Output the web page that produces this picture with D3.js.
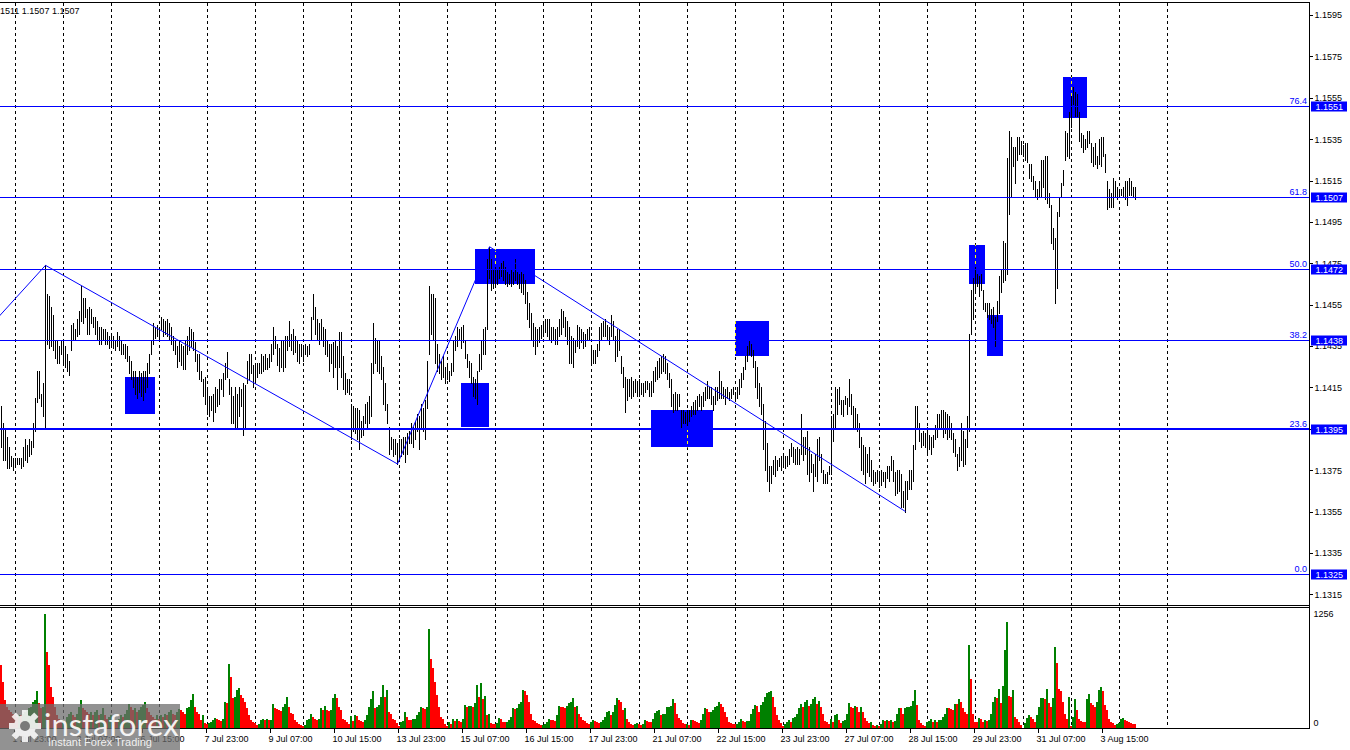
<!DOCTYPE html>
<html><head><meta charset="utf-8">
<script src="https://cdn.jsdelivr.net/npm/d3@7"></script>
<style>html,body{margin:0;padding:0;background:#fff;overflow:hidden}svg{display:block;font-family:"Liberation Sans",Arial,sans-serif}</style>
</head><body><svg id="c" width="1350" height="750"></svg>
<script>
// ---- DATA (EURUSD H1, prices in 1/10000 units, volumes in ticks) ----
const high = [
11406,11398,11395,11391,11386,11382,11381,11381,11381,11381,11381,11386,
11390,11387,11390,11389,11398,11410,11423,11423,11412,11417,11474,11460,
11459,11454,11450,11438,11438,11435,11438,11438,11435,11431,11428,11445,
11446,11443,11448,11452,11464,11458,11458,11453,11454,11453,11449,11449,
11447,11444,11444,11443,11443,11442,11440,11441,11440,11438,11442,11440,
11438,11436,11436,11435,11430,11428,11423,11423,11420,11423,11422,11423,
11423,11427,11431,11438,11446,11444,11445,11444,11449,11448,11447,11448,
11446,11444,11440,11438,11435,11438,11436,11435,11438,11440,11444,11443,
11442,11437,11431,11431,11423,11419,11420,11414,11411,11411,11412,11415,
11414,11419,11419,11422,11427,11432,11419,11415,11411,11415,11412,11415,
11414,11417,11416,11428,11431,11431,11426,11426,11427,11427,11431,11430,
11431,11429,11431,11436,11444,11440,11436,11434,11438,11438,11440,11440,
11447,11441,11443,11440,11438,11436,11436,11435,11436,11435,11436,11449,
11460,11454,11448,11446,11448,11444,11443,11438,11436,11436,11437,11438,
11435,11442,11442,11430,11422,11419,11419,11407,11406,11405,11405,11404,
11399,11401,11407,11408,11411,11427,11446,11439,11438,11438,11430,11425,
11417,11407,11396,11391,11390,11390,11388,11390,11390,11391,11391,11393,
11394,11398,11396,11399,11402,11401,11407,11405,11409,11428,11464,11460,
11460,11458,11436,11431,11428,11430,11425,11427,11423,11427,11438,11440,
11444,11443,11444,11445,11438,11431,11428,11427,11420,11419,11423,11431,
11438,11443,11444,11477,11483,11477,11472,11473,11472,11473,11475,11476,
11473,11471,11470,11472,11471,11477,11471,11470,11471,11470,11467,11461,
11456,11451,11446,11444,11443,11444,11445,11446,11448,11448,11448,11444,
11444,11443,11444,11448,11453,11452,11449,11447,11444,11440,11439,11438,
11445,11444,11443,11442,11441,11443,11444,11435,11433,11433,11436,11444,
11446,11447,11448,11445,11444,11450,11447,11440,11443,11443,11430,11425,
11420,11419,11419,11420,11418,11419,11418,11419,11417,11417,11418,11418,
11417,11418,11423,11425,11428,11429,11430,11431,11430,11427,11422,11419,
11412,11413,11412,11412,11404,11404,11403,11404,11404,11406,11408,11409,
11411,11412,11411,11413,11415,11418,11415,11415,11411,11415,11415,11423,
11418,11415,11414,11415,11413,11414,11415,11413,11415,11419,11422,11425,
11430,11435,11438,11436,11433,11428,11425,11417,11415,11407,11399,11388,
11377,11377,11380,11382,11380,11381,11382,11382,11382,11382,11385,11388,
11386,11385,11386,11385,11402,11391,11391,11394,11386,11383,11378,11383,
11390,11391,11383,11375,11373,11374,11377,11401,11402,11415,11414,11415,
11409,11409,11411,11410,11419,11412,11406,11405,11402,11398,11391,11387,
11386,11383,11386,11380,11375,11374,11375,11374,11375,11374,11374,11377,
11377,11382,11380,11374,11375,11375,11373,11365,11370,11370,11375,11375,
11387,11406,11406,11398,11393,11394,11393,11396,11392,11391,11392,11397,
11402,11402,11404,11404,11403,11402,11401,11398,11393,11390,11383,11386,
11398,11394,11390,11401,11441,11462,11468,11473,11470,11469,11470,11462,
11456,11456,11456,11453,11454,11449,11457,11469,11472,11486,11485,11526,
11539,11536,11531,11531,11536,11536,11534,11532,11533,11533,11523,11523,
11517,11515,11511,11515,11525,11525,11527,11527,11509,11503,11492,11487,
11500,11507,11514,11520,11539,11538,11548,11556,11560,11558,11557,11548,
11538,11537,11535,11539,11539,11533,11531,11533,11527,11535,11536,11536,
11528,11515,11511,11509,11516,11515,11512,11511,11511,11512,11515,11515,
11516,11515,11512,11512];
const low = [
11386,11380,11380,11376,11376,11377,11375,11377,11378,11378,11376,11377,
11380,11379,11382,11383,11386,11394,11408,11410,11406,11401,11396,11436,
11434,11435,11433,11429,11427,11427,11431,11427,11425,11423,11421,11433,
11438,11438,11440,11441,11447,11446,11449,11441,11441,11446,11444,11441,
11438,11436,11436,11438,11436,11436,11434,11435,11434,11433,11435,11433,
11431,11431,11429,11428,11422,11419,11415,11412,11410,11413,11411,11409,
11413,11415,11422,11431,11436,11439,11440,11438,11443,11440,11441,11440,
11438,11436,11433,11431,11425,11428,11426,11424,11424,11431,11433,11435,
11433,11428,11423,11419,11418,11411,11407,11402,11401,11404,11399,11403,
11406,11407,11414,11411,11419,11420,11412,11398,11398,11395,11395,11401,
11406,11392,11396,11417,11419,11422,11415,11418,11420,11422,11422,11423,
11424,11424,11425,11428,11431,11434,11426,11423,11425,11423,11425,11433,
11435,11433,11431,11432,11428,11427,11430,11428,11431,11430,11431,11438,
11448,11441,11438,11436,11438,11435,11431,11430,11423,11427,11420,11425,
11414,11425,11420,11414,11412,11413,11412,11390,11394,11393,11390,11385,
11391,11392,11398,11396,11398,11401,11422,11427,11423,11422,11419,11407,
11404,11398,11383,11385,11382,11383,11378,11380,11382,11383,11379,11383,
11388,11388,11386,11390,11394,11385,11396,11394,11390,11405,11431,11441,
11438,11427,11423,11422,11419,11420,11417,11419,11418,11421,11423,11433,
11435,11438,11434,11437,11429,11425,11420,11417,11411,11410,11407,11423,
11424,11431,11431,11443,11468,11462,11463,11465,11465,11468,11469,11467,
11465,11464,11465,11464,11465,11467,11465,11463,11461,11460,11456,11448,
11444,11438,11435,11431,11435,11437,11439,11440,11442,11440,11438,11437,
11438,11436,11436,11440,11441,11444,11440,11436,11427,11427,11425,11432,
11435,11434,11437,11434,11435,11438,11438,11427,11427,11427,11430,11433,
11438,11440,11440,11438,11436,11440,11438,11428,11430,11433,11422,11415,
11403,11409,11411,11410,11411,11413,11411,11411,11412,11411,11413,11414,
11411,11411,11413,11418,11419,11420,11422,11423,11422,11419,11415,11406,
11403,11404,11404,11406,11396,11398,11398,11397,11399,11401,11402,11402,
11404,11406,11404,11406,11409,11410,11410,11407,11404,11407,11409,11410,
11410,11410,11407,11410,11409,11410,11412,11409,11410,11412,11415,11419,
11424,11428,11431,11430,11425,11415,11410,11406,11402,11385,11375,11370,
11365,11369,11373,11372,11375,11377,11375,11377,11376,11377,11378,11382,
11379,11378,11378,11378,11383,11380,11383,11373,11370,11374,11365,11372,
11370,11380,11374,11369,11369,11369,11373,11373,11389,11396,11402,11407,
11402,11401,11407,11402,11406,11402,11396,11395,11394,11386,11375,11373,
11369,11374,11372,11370,11368,11369,11370,11367,11368,11370,11367,11371,
11370,11375,11370,11363,11364,11365,11357,11357,11355,11361,11366,11366,
11370,11385,11395,11389,11386,11387,11386,11384,11385,11383,11386,11390,
11391,11396,11396,11391,11393,11390,11391,11390,11384,11382,11375,11377,
11380,11377,11378,11386,11394,11441,11448,11462,11464,11459,11462,11453,
11452,11449,11448,11446,11444,11435,11447,11451,11461,11466,11467,11470,
11499,11507,11522,11514,11525,11528,11528,11527,11525,11524,11516,11515,
11511,11507,11506,11507,11507,11512,11506,11504,11502,11485,11482,11456,
11463,11498,11507,11513,11525,11527,11526,11541,11552,11546,11546,11534,
11531,11529,11530,11531,11533,11524,11522,11523,11521,11523,11522,11527,
11519,11501,11502,11502,11502,11507,11506,11507,11508,11507,11506,11503,
11508,11508,11507,11506];
const volume = [
696,511,307,233,196,178,159,141,122,141,141,159,
178,196,215,233,289,307,407,270,215,233,1256,833,
696,448,344,233,141,104,67,85,48,122,159,178,
141,122,159,233,307,215,196,178,159,178,141,178,
196,141,159,215,141,104,122,141,104,85,67,104,
141,122,159,196,263,233,196,215,178,196,233,252,
289,215,178,141,122,104,141,104,141,122,159,141,
178,196,159,141,178,204,196,178,159,215,233,307,
374,226,178,159,85,141,56,41,56,67,93,115,
104,93,78,104,289,270,707,566,326,344,418,437,
363,326,289,215,141,85,67,56,30,48,93,96,
93,100,85,93,263,215,211,196,192,233,263,337,
233,167,152,85,67,48,30,19,30,85,104,152,
122,104,93,104,215,196,241,196,189,196,326,374,
326,233,196,104,85,67,41,130,78,141,137,93,
78,67,85,141,233,315,411,215,233,252,344,474,
344,418,178,159,104,85,56,19,67,78,178,122,
93,85,96,104,141,178,233,215,211,226,1095,759,
659,511,363,233,122,104,48,19,67,48,104,78,
104,78,67,100,252,226,241,244,233,278,474,344,
492,318,352,148,152,56,48,41,56,115,100,67,
63,67,85,122,215,204,215,259,289,418,411,363,
289,159,85,78,56,48,30,37,41,67,104,93,
85,78,141,241,233,226,215,241,270,289,326,233,
241,159,122,93,78,56,41,67,85,78,67,56,
67,93,122,178,189,141,178,252,326,307,289,196,
215,104,67,41,30,41,56,41,30,48,85,78,
67,67,104,167,189,196,141,152,159,226,233,241,
318,270,152,115,85,56,41,48,30,93,85,78,
67,56,93,159,215,204,178,181,196,233,241,289,
263,233,178,122,67,56,48,41,48,67,104,78,
67,78,81,159,204,252,241,178,252,289,344,381,
400,411,344,233,141,85,56,19,41,67,85,67,
115,122,159,215,263,226,289,307,241,263,315,344,
263,300,233,159,78,67,48,104,67,141,159,85,
56,78,85,159,270,226,215,241,226,178,226,178,
115,78,56,67,30,19,30,19,41,85,78,85,
78,85,67,74,159,215,215,152,215,226,233,241,
300,418,252,85,56,30,19,67,78,104,67,85,
67,85,93,122,152,215,215,204,196,263,263,318,
289,215,178,159,918,540,159,67,67,115,104,67,
85,78,85,159,289,344,326,426,270,463,862,1166,
352,340,418,122,104,67,30,4,56,115,141,122,
104,67,141,233,326,329,315,426,270,226,326,892,
714,426,411,289,159,104,337,19,122,315,196,104,
78,67,63,315,370,270,252,233,289,418,448,411,
252,196,104,67,56,30,48,56,104,115,85,81,
67,56,48,41];
const timeLabels = ["1 Jul 23:00","3 Jul 07:00","6 Jul 15:00","7 Jul 23:00","9 Jul 07:00","10 Jul 15:00","13 Jul 23:00","15 Jul 07:00","16 Jul 15:00","17 Jul 23:00","21 Jul 07:00","22 Jul 15:00","23 Jul 23:00","27 Jul 07:00","28 Jul 15:00","29 Jul 23:00","31 Jul 07:00","3 Aug 15:00"];
const timeLabelFirstBar = 6, barsPerLabel = 32;      // label every 32 hourly bars
const firstMidnightBar = 7, barsPerDay = 24, lastGridBar = 583;
const priceTicks = [1.1595,1.1575,1.1555,1.1535,1.1515,1.1495,1.1475,1.1455,1.1435,1.1415,1.1395,1.1375,1.1355,1.1335,1.1315];
const fibNames  = ["76.4","61.8","50.0","38.2","23.6","0.0"];
const fibPrices = [1.1551,1.1507,1.1472,1.1438,1.1395,1.1325];
const zigzagBars   = [-10,22,198,244,452];
const zigzagPrices = [1.1440,1.1474,1.1378,1.1483,1.1355];
const boxStart = [62,230,237,325,367,484,493,531];
const boxEnd   = [77,244,267,356,384,492,501,543];
const boxTop   = [1.1420,1.1417,1.1482,1.1404,1.1447,1.1484,1.1450,1.1565];
const boxBottom= [1.1402,1.1396,1.1465,1.1386,1.1430,1.1465,1.1430,1.1545];
const volumeTicks = [1256,0];
const headerText = "1511 1.1507 1.1507";

// ---- DRAW ----
const svg = d3.select("#c");
const BLUE = "#0000ff", GREEN = "#008000", RED = "#ff0000";
const axisX = 1309.5;
const x = d3.scaleLinear().domain([0, 583]).range([1, 1167]);
const y = d3.scaleLinear().domain([1.1315, 1.1595]).range([594.3, 15]);
const yv = d3.scaleLinear().domain([0, 1256]).range([728, 614]);
const P = v => v / 10000;
const N = high.length;

const defs = svg.append("defs");
defs.append("clipPath").attr("id","pricePane").append("rect").attr("x",0).attr("y",3).attr("width",1309).attr("height",602);
const boxClip = defs.append("clipPath").attr("id","boxClip");
boxStart.forEach((b,i)=>{
  boxClip.append("rect").attr("x",x(b)).attr("y",y(boxTop[i])).attr("width",x(boxEnd[i])-x(b)).attr("height",y(boxBottom[i])-y(boxTop[i]));
});

// grid (daily, dotted)
const gridBars = d3.range(firstMidnightBar, lastGridBar+1, barsPerDay);
function drawGrid(g, color){
  g.selectAll("line.p").data(gridBars).join("line").attr("class","p")
    .attr("x1",d=>x(d)+0.5).attr("x2",d=>x(d)+0.5).attr("y1",3).attr("y2",605)
    .attr("stroke",color).attr("stroke-dasharray","3,3").attr("shape-rendering","crispEdges");
  g.selectAll("line.v").data(gridBars).join("line").attr("class","v")
    .attr("x1",d=>x(d)+0.5).attr("x2",d=>x(d)+0.5).attr("y1",608).attr("y2",728)
    .attr("stroke",color).attr("stroke-dasharray","3,3").attr("shape-rendering","crispEdges");
}
drawGrid(svg.append("g"), "#000");

// rectangles (background objects)
svg.append("g").selectAll("rect").data(boxStart).join("rect")
  .attr("x",(b)=>x(b)).attr("y",(b,i)=>y(boxTop[i]))
  .attr("width",(b,i)=>x(boxEnd[i])-x(b)).attr("height",(b,i)=>y(boxBottom[i])-y(boxTop[i]))
  .attr("fill",BLUE).attr("shape-rendering","crispEdges");
drawGrid(svg.append("g").attr("clip-path","url(#boxClip)"), "#ffff00");

// price bars
svg.append("g").selectAll("line").data(d3.range(N)).join("line")
  .attr("x1",i=>x(i)+0.5).attr("x2",i=>x(i)+0.5)
  .attr("y1",i=>Math.round(y(P(high[i])))).attr("y2",i=>Math.round(y(P(low[i])))+1)
  .attr("stroke","#000").attr("stroke-width",1).attr("shape-rendering","crispEdges");

// fibo levels
const fg = svg.append("g");
fibPrices.forEach((p,i)=>{
  const yy = Math.round(y(p));
  fg.append("rect").attr("x",0).attr("width",1309).attr("y", fibNames[i]==="23.6"? yy-1 : yy)
    .attr("height", fibNames[i]==="23.6"?2:1).attr("fill",BLUE).attr("shape-rendering","crispEdges");
  fg.append("text").attr("x",1307).attr("y",yy-2).attr("text-anchor","end")
    .attr("font-size",9).attr("fill",BLUE).text(fibNames[i]);
});

// zigzag trend lines
svg.append("path").attr("clip-path","url(#pricePane)")
  .datum(zigzagBars.map((b,i)=>[b, zigzagPrices[i]]))
  .attr("d", d3.line().x(d=>x(d[0])+0.5).y(d=>y(d[1])))
  .attr("fill","none").attr("stroke",BLUE).attr("stroke-width",1);

// volumes
svg.append("g").selectAll("rect").data(d3.range(N)).join("rect")
  .attr("x",i=>x(i)-1).attr("width",2)
  .attr("y",i=>Math.round(yv(volume[i]))).attr("height",i=>728-Math.round(yv(volume[i])))
  .attr("fill",i=> (i>0 && volume[i]>volume[i-1]) ? GREEN : RED)
  .attr("shape-rendering","crispEdges");

// frame
const fr = svg.append("g").attr("stroke","#000").attr("shape-rendering","crispEdges");
fr.append("line").attr("x1",0).attr("x2",axisX).attr("y1",2.5).attr("y2",2.5);
fr.append("line").attr("x1",0).attr("x2",axisX).attr("y1",605.5).attr("y2",605.5);
fr.append("line").attr("x1",0).attr("x2",axisX).attr("y1",607.5).attr("y2",607.5);
fr.append("line").attr("x1",0).attr("x2",axisX).attr("y1",728.5).attr("y2",728.5);
fr.append("line").attr("x1",axisX).attr("x2",axisX).attr("y1",2).attr("y2",729);

// price axis
const pa = svg.append("g").attr("transform",`translate(${axisX},0)`)
  .call(d3.axisRight(y).tickValues(priceTicks).tickFormat(d3.format(".4f")).tickSize(3).tickPadding(2));
pa.select(".domain").remove();
pa.selectAll("text").attr("font-size",9).attr("font-family","Liberation Sans, Arial, sans-serif").attr("fill","#000");
pa.selectAll("line").attr("shape-rendering","crispEdges");

// price boxes for fibo levels
const pb = svg.append("g");
fibPrices.forEach(p=>{
  const yy = Math.round(y(p));
  pb.append("rect").attr("x",1311).attr("y",yy-4.5).attr("width",36).attr("height",10).attr("fill",BLUE);
  pb.append("text").attr("x",1315.5).attr("y",yy+3.8).attr("font-size",9).attr("fill","#fff").text(d3.format(".4f")(p));
});

// volume axis
const va = svg.append("g").attr("transform",`translate(${axisX},0)`)
  .call(d3.axisRight(yv).tickValues(volumeTicks).tickFormat(d3.format("d")).tickSize(0).tickPadding(4));
va.select(".domain").remove();
va.selectAll("text").attr("font-size",9).attr("font-family","Liberation Sans, Arial, sans-serif").attr("fill","#000")
  .attr("dy",d=>d===0?"-0.25em":"0.32em");

// time axis
const labelBars = timeLabels.map((t,i)=>timeLabelFirstBar + i*barsPerLabel);
const ta = svg.append("g").attr("transform","translate(0.5,728.5)")
  .call(d3.axisBottom(x).tickValues(labelBars).tickFormat((d,i)=>timeLabels[i]).tickSize(4).tickPadding(3));
ta.select(".domain").remove();
ta.selectAll("text").attr("font-size",9).attr("font-family","Liberation Sans, Arial, sans-serif").attr("fill","#000")
  .attr("text-anchor","start").attr("x",-1.5);
ta.selectAll("line").attr("shape-rendering","crispEdges");

// header
svg.append("text").attr("x",0).attr("y",14).attr("font-size",9).attr("fill","#000").text(headerText);

// watermark
const wm = svg.append("g");
wm.append("rect").attr("x",0).attr("y",704).attr("width",180).attr("height",46).attr("fill","#6e6e6e").attr("opacity",0.75);
const gear = wm.append("g").attr("transform","translate(25,726)").attr("fill","#fff").attr("opacity",0.85);
d3.range(8).forEach(k=>{
  gear.append("rect").attr("x",-3).attr("y",-16).attr("width",6).attr("height",7).attr("transform",`rotate(${k*45})`);
});
gear.append("circle").attr("r",11);
wm.append("circle").attr("cx",25).attr("cy",726).attr("r",5).attr("fill","#7a7a7a");
wm.append("text").attr("x",44).attr("y",736).attr("font-size",31).attr("fill","#fff").attr("opacity",0.9)
  .attr("font-family","Lato, 'Liberation Sans', Arial, sans-serif").text("instaforex");
wm.append("text").attr("x",48).attr("y",746).attr("font-size",11).attr("fill","#f0f0f0").text("Instant Forex Trading");

if (high.length!==low.length || high.length!==volume.length) throw new Error("len "+high.length+" "+low.length+" "+volume.length);
</script></body></html>
